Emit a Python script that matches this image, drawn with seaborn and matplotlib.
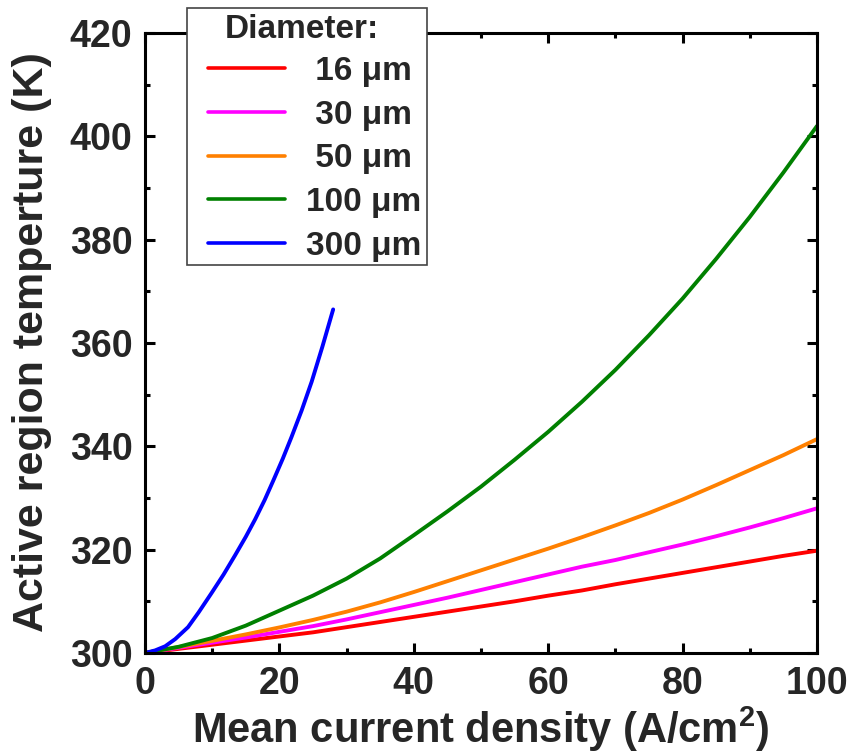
import numpy as np
import pandas as pd
import matplotlib
matplotlib.use("Agg")
import matplotlib.pyplot as plt
import seaborn as sns
from matplotlib.patches import Rectangle
from matplotlib.ticker import MultipleLocator

# Mean current density grid (A/cm^2) shared by the small-diameter devices
density = [0, 5, 10, 15, 20, 25, 30, 35, 40, 45, 50,
           55, 60, 65, 70, 75, 80, 85, 90, 95, 100]

# Active region temperature (K) per device diameter
temp_16 = [300.0, 300.8, 301.6, 302.4, 303.2, 304.0, 305.0, 306.0, 307.0, 308.0, 309.0,
           310.0, 311.1, 312.1, 313.3, 314.4, 315.5, 316.6, 317.7, 318.8, 319.8]
temp_30 = [300.0, 301.0, 302.0, 303.0, 304.1, 305.2, 306.5, 307.9, 309.3, 310.7, 312.2,
           313.7, 315.2, 316.7, 318.0, 319.5, 321.0, 322.6, 324.3, 326.1, 328.0]
temp_50 = [300.0, 301.15, 302.35, 303.6, 304.95, 306.4, 308.0, 309.8, 311.8, 313.9, 316.0,
           318.1, 320.2, 322.4, 324.7, 327.1, 329.7, 332.5, 335.4, 338.3, 341.4]
temp_100 = [300.0, 301.2, 302.9, 305.3, 308.2, 311.1, 314.4, 318.3, 322.8, 327.4, 332.2,
            337.4, 342.8, 348.6, 354.8, 361.5, 368.6, 376.3, 384.4, 393.0, 402.0]

# The 300 um device is only driven up to ~28 A/cm^2
density_300 = [0, 1.5, 3.0, 4.5, 6.4, 8.0, 9.9, 11.7, 13.4, 15.0, 16.4,
               17.8, 19.1, 20.5, 21.8, 23.3, 24.8, 26.4, 28.0]
temp_300 = [300.0, 300.5, 301.3, 302.7, 305.0, 307.9, 311.6, 315.2, 318.9, 322.5, 325.9,
            329.6, 333.4, 337.6, 341.8, 346.9, 352.5, 359.3, 366.5]

diameters = ["16", "30", "50", "100", "300"]
colors = ["#ff0000", "#ff00ff", "#ff8000", "#008000", "#0000ff"]

# one leading space keeps the two- and three-digit labels centred on each other
labels = [(" " if len(d) < 3 else "") + f"{d} μm" for d in diameters]

frames = []
for lab, xs, ys in zip(labels,
                       [density, density, density, density, density_300],
                       [temp_16, temp_30, temp_50, temp_100, temp_300]):
    frames.append(pd.DataFrame({"J": xs, "T": ys, "Diameter": lab}))
df = pd.concat(frames, ignore_index=True)

sns.set_theme(style="ticks")
plt.rcParams["font.family"] = ["Liberation Sans", "DejaVu Sans"]
plt.rcParams["font.weight"] = "bold"
plt.rcParams["mathtext.fontset"] = "custom"
plt.rcParams["mathtext.bf"] = "Liberation Sans:bold"

W, H = 850, 753
fig = plt.figure(figsize=(W / 100, H / 100), dpi=100)
ax = fig.add_axes([145 / W, 1 - 653 / H, (817 - 145) / W, (653 - 33) / H])

sns.lineplot(data=df, x="J", y="T", hue="Diameter", hue_order=labels,
             palette=dict(zip(labels, colors)), linewidth=2.8, sort=False,
             estimator=None, ax=ax)

ax.set_xlim(0, 100)
ax.set_ylim(300, 420)
ax.xaxis.set_major_locator(MultipleLocator(20))
ax.xaxis.set_minor_locator(MultipleLocator(10))
ax.yaxis.set_major_locator(MultipleLocator(20))
ax.yaxis.set_minor_locator(MultipleLocator(10))

for side in ["left", "right", "top", "bottom"]:
    ax.spines[side].set_visible(True)
    ax.spines[side].set_linewidth(2.2)
    ax.spines[side].set_color("black")

ax.tick_params(which="both", direction="in", top=True, right=True,
               width=2.2, color="black")
ax.tick_params(which="major", length=7.5, labelsize=27)
ax.tick_params(which="minor", length=3.5)
ax.tick_params(axis="x", which="major", pad=9)
ax.tick_params(axis="y", which="major", pad=9)
for lbl in ax.get_xticklabels() + ax.get_yticklabels():
    lbl.set_fontweight("bold")

ax.set_xlabel("Mean current density (A/cm$^\\mathbf{2}$)", fontsize=30,
              fontweight="bold")
ax.set_ylabel("Active region temperture (K)", fontsize=31, fontweight="bold")
ax.xaxis.set_label_coords(0.5, -0.083)
ax.yaxis.set_label_coords(-0.138, 0.501)

# legend frame and heading drawn separately so the entries can sit inset
fig.add_artist(Rectangle((187 / W, 1 - 265 / H), (427 - 187) / W, (265 - 8) / H,
                         transform=fig.transFigure, facecolor="white",
                         edgecolor="#444444", linewidth=1.2, zorder=4))
fig.text(302 / W, 1 - 30 / H, "Diameter:", ha="center", va="center",
         fontsize=24, fontweight="bold", zorder=6)

handles, _ = ax.get_legend_handles_labels()
ax.get_legend().remove()
leg = fig.legend(handles, labels, loc="upper left",
                 bbox_to_anchor=(198 / W, 1 - 46 / H),
                 bbox_transform=fig.transFigure,
                 fontsize=24, frameon=False, handlelength=2.3,
                 handletextpad=0.63, labelspacing=0.38, borderpad=0.3,
                 borderaxespad=0)
leg.set_zorder(5)
for t in leg.get_texts():
    t.set_fontweight("bold")
for line in leg.get_lines():
    line.set_linewidth(2.6)

fig.savefig("out.png", dpi=100)
